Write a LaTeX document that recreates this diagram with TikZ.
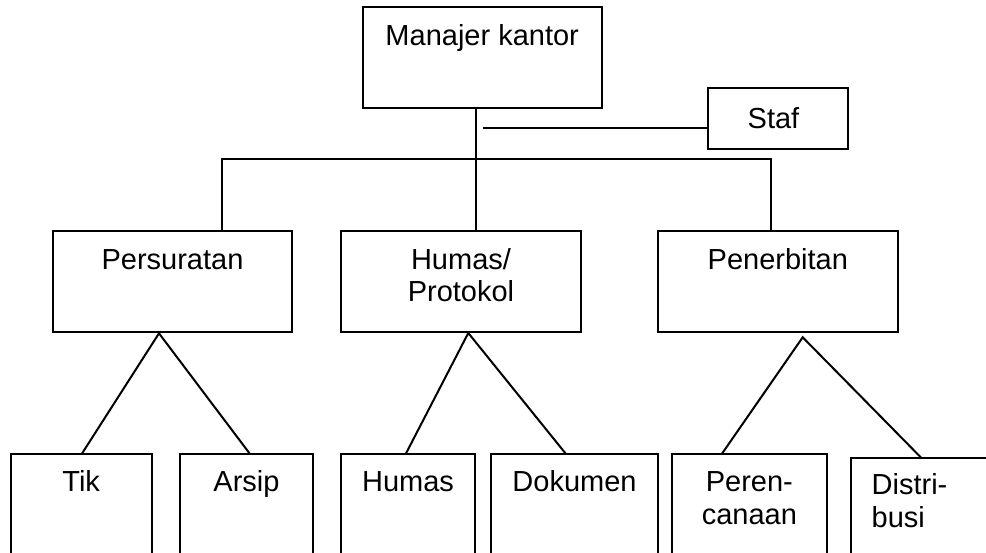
\documentclass[tikz,border=0pt]{standalone}
\usepackage{fontspec}
\setmainfont{Liberation Sans}
\usetikzlibrary{calc}

\tikzset{
  unit/.style={draw=black, line width=2pt, rectangle, inner sep=0pt, outer sep=0pt},
  link/.style={draw=black, line width=2pt},
  caption/.style={inner sep=0pt, outer sep=0pt, font=\fontsize{29}{32.4}\selectfont},
}

\begin{document}
\begin{tikzpicture}[x=1pt, y=-1pt]
  \useasboundingbox (0,0) rectangle (986,552);

  % top level
  \node[unit, minimum width=239, minimum height=101] (mgr) at (482.2,57.5) {};
  \node[unit, minimum width=140, minimum height=60.7] (staf) at (778.3,118.65) {};

  % departments
  \node[unit, minimum width=239.6, minimum height=101.8] (pers) at (172.5,281.4) {};
  \node[unit, minimum width=240, minimum height=101.8] (hum) at (461,281.4) {};
  \node[unit, minimum width=239.7, minimum height=101.8] (pen) at (777.85,281.4) {};

  % sections (running off the lower edge)
  \node[unit, minimum width=141, minimum height=166] (tik) at (81.2,537) {};
  \node[unit, minimum width=133.6, minimum height=166] (arsip) at (246.5,537) {};
  \node[unit, minimum width=134, minimum height=166] (humas) at (408,537) {};
  \node[unit, minimum width=167.6, minimum height=166] (dok) at (574.5,537) {};
  \node[unit, minimum width=154.7, minimum height=166] (per) at (749.35,537) {};
  \node[unit, minimum width=159.3, minimum height=166] (dist) at (930.35,541.3) {};

  % labels (multi-line labels sit on the baseline of their last line)
  \node[caption, anchor=base] (tmgr) at (482.2,45.5) {Manajer kantor};
  \node[caption, anchor=base] (tstaf) at (773.5,128) {Staf};
  \node[caption, anchor=base] (tpers) at (172.5,269.3) {Persuratan};
  \node[caption, anchor=base, align=center] (thum) at (461,301.7) {Humas/\\Protokol};
  \node[caption, anchor=base] (tpen) at (777.85,269.3) {Penerbitan};
  \node[caption, anchor=base] (ttik) at (81.2,491.7) {Tik};
  \node[caption, anchor=base] (tarsip) at (246.5,491.7) {Arsip};
  \node[caption, anchor=base] (thumas) at (408,491.7) {Humas};
  \node[caption, anchor=base] (tdok) at (574.5,491.7) {Dokumen};
  \node[caption, anchor=base, align=center] (tper) at (749.35,524) {Peren-\\canaan};
  \node[caption, anchor=base west, align=left] (tdist) at (871.7,527.3) {Distri-\\busi};

  % junction points
  \coordinate (busL) at (222.3,159);
  \coordinate (busM) at (475.7,159);
  \coordinate (busR) at (771,159);
  \coordinate (stafEnd) at (482.7,128.3);
  \coordinate (aPers) at (159,333.3);
  \coordinate (aHum) at (468.3,333);
  \coordinate (aPen) at (802.7,337.3);

  % main trunk and staff line
  \draw[link] (mgr.south -| busM) -- (hum.north -| busM);
  \draw[link] (stafEnd) -- (stafEnd -| staf.west);

  % distribution bar
  \draw[link] (pers.north -| busL) |- (busR) -- (pen.north -| busR);

  % section branches
  \draw[link] ($(tik.north)+(0.5,0)$) -- (aPers) -- ($(arsip.north)+(3.5,0)$);
  \draw[link] ($(humas.north)+(-2.3,0)$) -- (aHum) -- ($(dok.north)+(-8.5,0)$);
  \draw[link] ($(per.north)+(-27.6,0)$) -- (aPen) -- ($(dist.north)+(-8.6,0)$);
\end{tikzpicture}
\end{document}
